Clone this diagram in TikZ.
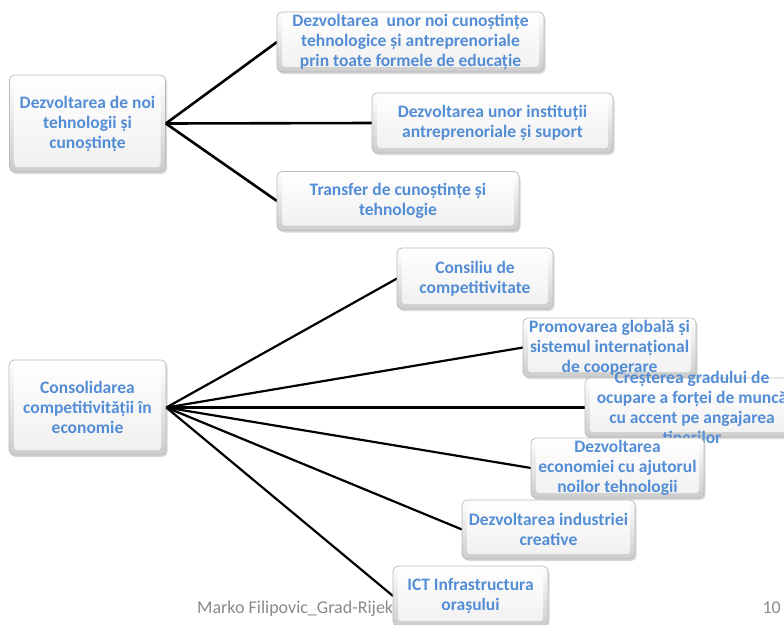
\documentclass[tikz,border=0pt]{standalone}
\usepackage{fontspec}
\setmainfont{Carlito}
\usetikzlibrary{shadows}
\definecolor{txtblue}{RGB}{83,141,213}
\definecolor{footgray}{RGB}{137,137,137}
\begin{document}
\begin{tikzpicture}[x=1pt,y=-1pt,
  box/.style={draw=gray!55, line width=0.7pt, rounded corners=5pt,
    top color=white, bottom color=gray!40, inner sep=0pt,
    drop shadow={opacity=0.3,shadow xshift=1.5pt,shadow yshift=-2pt},
    path picture={\shade[top color=white, bottom color=gray!12, rounded corners=3pt]
      ([xshift=5pt,yshift=-5pt]path picture bounding box.north west) rectangle
      ([xshift=-5pt,yshift=5pt]path picture bounding box.south east);}},
  txt/.style={text=txtblue, font=\bfseries\fontsize{17.5}{20}\selectfont, align=center, inner sep=0pt},
  link/.style={line width=2.6pt, black},
  link2/.style={line width=2.2pt, black},
  foot/.style={text=footgray, font=\fontsize{18}{20}\selectfont, inner sep=0pt, anchor=base west}]
\useasboundingbox (0,0) rectangle (784,624);
% coordinates of boxes (centres)
\coordinate (r1c) at (87.5,123.5);
\coordinate (ac) at (410.5,42);
\coordinate (bc) at (492.5,123);
\coordinate (cc) at (398,201);
\coordinate (r2c) at (87.5,407.5);
\coordinate (dc) at (475,278.5);
\coordinate (ec) at (609.5,347.5);
\coordinate (fc) at (692,407.5);
\coordinate (gc) at (617.5,468);
\coordinate (hc) at (548.5,529.5);
\coordinate (ic) at (470.5,596);
% footer
\node[foot] (ft) at (197,613) {Marko Filipovic\_Grad-Rijeka};
\node[foot, anchor=base east] (pg) at (781,613) {10};
% root boxes
\node[box, minimum width=156pt, minimum height=97pt] (r1) at (r1c) {};
\node[txt] (r1t) at (r1c) {Dezvoltarea de noi\\tehnologii și\\cunoștințe};
\node[box, minimum width=157pt, minimum height=95pt] (r2) at (r2c) {};
\node[txt] (r2t) at (r2c) {Consolidarea\\competitivității în\\economie};
% connectors group 1
\path (ac) ++(-133.5,0) coordinate (aw);
\path (bc) ++(-120.5,0) coordinate (bw);
\path (cc) ++(-121,0) coordinate (cw);
\draw[link] (r1.east) -- (aw);
\draw[link] (r1.east) -- (bw);
\draw[link] (r1.east) -- (cw);
% connectors group 2
\path (dc) ++(-78,0) coordinate (dw);
\path (ec) ++(-86.5,0) coordinate (ew);
\path (fc) ++(-107,0) coordinate (fw);
\path (gc) ++(-86.5,0) coordinate (gw);
\path (hc) ++(-86.5,0) coordinate (hw);
\path (ic) ++(-77.5,0) coordinate (iw);
\draw[link2] (r2.east) -- (dw);
\draw[link2] (r2.east) -- (ew);
\draw[link2] (r2.east) -- (fw);
\draw[link2] (r2.east) -- (gw);
\draw[link2] (r2.east) -- (hw);
\draw[link2] (r2.east) -- (iw);
% child boxes
\node[box, minimum width=267pt, minimum height=60pt] (a) at (ac) {};
\node[txt] (at) at (ac) {Dezvoltarea\ \ unor noi cunoștințe\\tehnologice și antreprenoriale\\prin toate formele de educație};
\node[box, minimum width=241pt, minimum height=60pt] (b) at (bc) {};
\node[txt] (bt) at (bc) {Dezvoltarea unor instituții\\antreprenoriale și suport};
\node[box, minimum width=242pt, minimum height=59pt] (c) at (cc) {};
\node[txt] (ct) at (cc) {Transfer de cunoștințe și\\tehnologie};
\node[box, minimum width=156pt, minimum height=61pt] (d) at (dc) {};
\node[txt] (dt) at (dc) {Consiliu de\\competitivitate};
\node[box, minimum width=173pt, minimum height=59pt] (e) at (ec) {};
\node[txt] (et) at (ec) {Promovarea globală și\\sistemul internațional\\de cooperare};
\node[box, minimum width=214pt, minimum height=59pt] (f) at (fc) {};
\node[txt] (ftx) at (fc) {Creșterea gradului de\\ocupare a forței de muncă\\cu accent pe angajarea\\tinerilor};
\node[box, minimum width=173pt, minimum height=60pt] (g) at (gc) {};
\node[txt] (gt) at (gc) {Dezvoltarea\\economiei cu ajutorul\\noilor tehnologii};
\node[box, minimum width=173pt, minimum height=59pt] (h) at (hc) {};
\node[txt] (ht) at (hc) {Dezvoltarea industriei\\creative};
\node[box, minimum width=155pt, minimum height=60pt] (i) at (ic) {};
\node[txt] (it) at (ic) {ICT Infrastructura\\orașului};
\end{tikzpicture}
\end{document}
